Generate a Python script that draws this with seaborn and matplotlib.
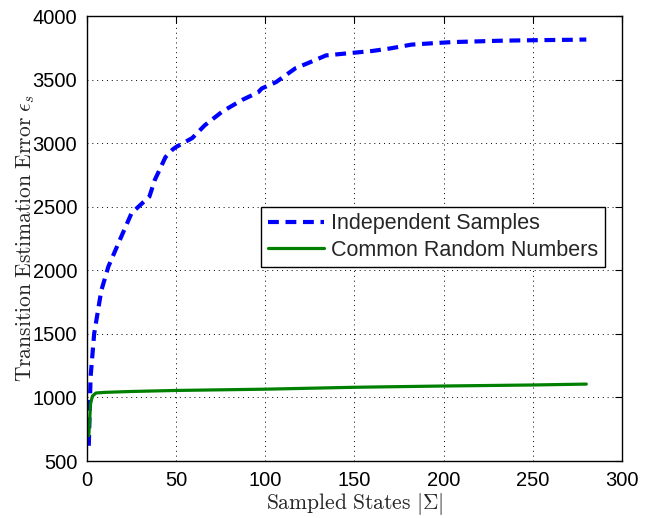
import matplotlib
matplotlib.use("Agg")
import matplotlib.pyplot as plt
import seaborn as sns
import pandas as pd

# values
indep_x = [1, 2, 4, 8, 12, 20, 25, 35, 38, 44, 48, 50, 59, 66, 76, 87, 96, 98,
           106, 113, 117, 124, 134, 145, 160, 170, 182, 193, 205, 218, 230, 242,
           253, 272, 280]
indep_y = [620, 1160, 1500, 1840, 2030, 2290, 2450, 2580, 2710, 2890, 2950, 2970,
           3040, 3140, 3250, 3340, 3400, 3430, 3480, 3550, 3590, 3630, 3690, 3705,
           3725, 3745, 3775, 3785, 3795, 3800, 3805, 3808, 3810, 3813, 3815]
crn_x = [1, 2, 3, 5, 10, 25, 50, 100, 150, 200, 250, 280]
crn_y = [700, 950, 1010, 1035, 1040, 1047, 1055, 1065, 1080, 1090, 1098, 1105]

x_ticks = [0, 50, 100, 150, 200, 250, 300]
y_ticks = [500, 1000, 1500, 2000, 2500, 3000, 3500, 4000]

sns.set_style('white')
plt.rcParams['font.family'] = ['Liberation Sans', 'DejaVu Sans']
plt.rcParams['mathtext.fontset'] = 'cm'

df_indep = pd.DataFrame({'x': indep_x, 'y': indep_y})
df_crn = pd.DataFrame({'x': crn_x, 'y': crn_y})

fig = plt.figure(figsize=(6.45, 5.18), dpi=100)
ax = fig.add_axes([0.1349, 0.110, 0.8294, 0.8591])

sns.lineplot(data=df_indep, x='x', y='y', ax=ax, color=(0, 0, 1), lw=3,
             dashes=False, label='Independent Samples')
ax.lines[-1].set_dashes((2.6, 1.6))
sns.lineplot(data=df_crn, x='x', y='y', ax=ax, color=(0, 0.5, 0), lw=2.3,
             label='Common Random Numbers')

ax.set_xlim(0, 300)
ax.set_ylim(500, 4000)
ax.set_xticks(x_ticks)
ax.set_yticks(y_ticks)
ax.tick_params(direction='in', top=True, right=True, labelsize=14.5,
               length=5, width=0.8, colors='black', pad=7)
ax.grid(True, linestyle=(0, (1, 4)), color='black', lw=0.7)
for s in ax.spines.values():
    s.set_color('black')
    s.set_linewidth(1.0)

ax.set_xlabel(r'$\mathrm{Sampled\ States}\ |\Sigma|$', fontsize=15.5, labelpad=1)
ax.set_ylabel(r'$\mathrm{Transition\ Estimation\ Error}\ \epsilon_s$', fontsize=15.5,
              labelpad=-3)

leg = ax.legend(loc='upper right', bbox_to_anchor=(0.968, 0.571), borderaxespad=0,
                fontsize=15.5, fancybox=False, framealpha=1, edgecolor='black',
                handlelength=2.6, handletextpad=0.35, borderpad=0.3,
                labelspacing=0.25)
leg.get_frame().set_linewidth(1.0)

fig.savefig('out.png', dpi=100)
